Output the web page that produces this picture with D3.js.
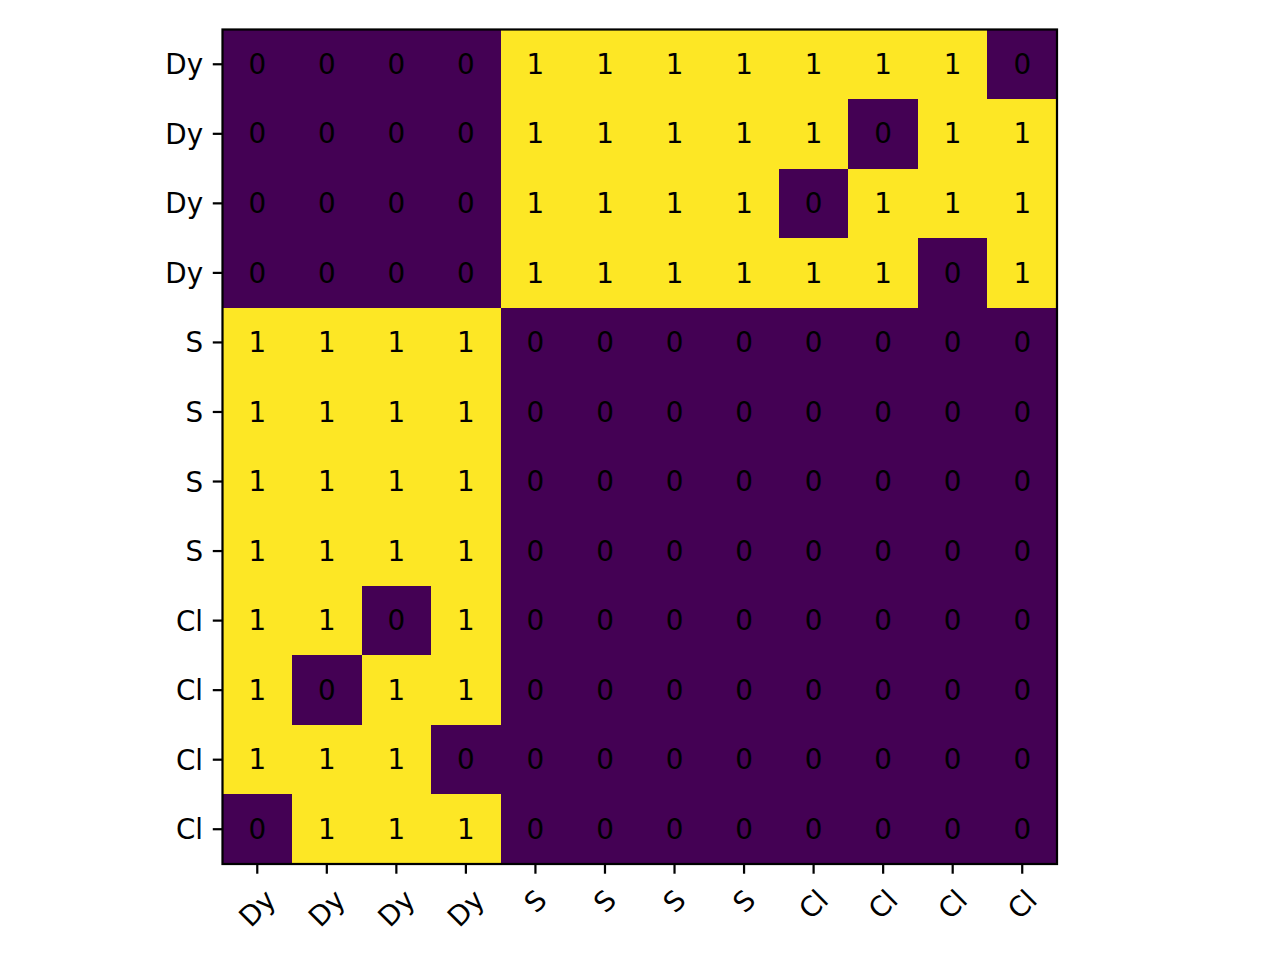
<!DOCTYPE html>
<html>
<head>
<meta charset="utf-8">
<script src="https://cdn.jsdelivr.net/npm/d3@7"></script>
<style>
  html, body { margin: 0; padding: 0; background: #ffffff; }
  svg { display: block; }
</style>
</head>
<body>
<svg id="chart" width="1280" height="960"></svg>
<script>
// ---- data ----
const rowLabels = ["Dy", "Dy", "Dy", "Dy", "S", "S", "S", "S", "Cl", "Cl", "Cl", "Cl"];
const colLabels = ["Dy", "Dy", "Dy", "Dy", "S", "S", "S", "S", "Cl", "Cl", "Cl", "Cl"];
const row0  = [0, 0, 0, 0, 1, 1, 1, 1, 1, 1, 1, 0];
const row1  = [0, 0, 0, 0, 1, 1, 1, 1, 1, 0, 1, 1];
const row2  = [0, 0, 0, 0, 1, 1, 1, 1, 0, 1, 1, 1];
const row3  = [0, 0, 0, 0, 1, 1, 1, 1, 1, 1, 0, 1];
const row4  = [1, 1, 1, 1, 0, 0, 0, 0, 0, 0, 0, 0];
const row5  = [1, 1, 1, 1, 0, 0, 0, 0, 0, 0, 0, 0];
const row6  = [1, 1, 1, 1, 0, 0, 0, 0, 0, 0, 0, 0];
const row7  = [1, 1, 1, 1, 0, 0, 0, 0, 0, 0, 0, 0];
const row8  = [1, 1, 0, 1, 0, 0, 0, 0, 0, 0, 0, 0];
const row9  = [1, 0, 1, 1, 0, 0, 0, 0, 0, 0, 0, 0];
const row10 = [1, 1, 1, 0, 0, 0, 0, 0, 0, 0, 0, 0];
const row11 = [0, 1, 1, 1, 0, 0, 0, 0, 0, 0, 0, 0];
const matrix = [row0, row1, row2, row3, row4, row5, row6, row7, row8, row9, row10, row11];

// ---- layout ----
const x0 = 222.5, y0 = 29.5, size = 834.5;
const fs = 27.78;           // 10pt at 200 dpi
const tickLen = 9.72, tickPad = 9.72, lw = 2.22;
const font = "DejaVu Sans, sans-serif";

const svg = d3.select("#chart");

const idx = d3.range(12);
const x = d3.scaleBand().domain(idx).range([x0, x0 + size]).padding(0);
const y = d3.scaleBand().domain(idx).range([y0, y0 + size]).padding(0);
const color = d3.scaleSequential(d3.interpolateViridis).domain([0, 1]);

const cells = [];
matrix.forEach((r, i) => r.forEach((v, j) => cells.push({ i, j, v })));

const g = svg.append("g");
g.selectAll("rect.cell").data(cells).join("rect")
  .attr("class", "cell")
  .attr("x", d => x(d.j))
  .attr("y", d => y(d.i))
  .attr("width", x.bandwidth())
  .attr("height", y.bandwidth())
  .attr("fill", d => color(d.v))
  .attr("shape-rendering", "crispEdges");

g.selectAll("text.ann").data(cells).join("text")
  .attr("class", "ann")
  .attr("x", d => x(d.j) + x.bandwidth() / 2)
  .attr("y", d => y(d.i) + y.bandwidth() / 2)
  .attr("dy", "0.346em")
  .attr("text-anchor", "middle")
  .attr("font-family", font)
  .attr("font-size", fs)
  .attr("fill", "#000000")
  .text(d => d.v);

// ---- axes ----
const xAxis = d3.axisBottom(x).tickSize(tickLen).tickPadding(tickPad).tickFormat(i => colLabels[i]);
const yAxis = d3.axisLeft(y).tickSize(tickLen).tickPadding(tickPad).tickFormat(i => rowLabels[i]);

const gx = svg.append("g").attr("transform", `translate(0,${y0 + size})`).call(xAxis);
const gy = svg.append("g").attr("transform", `translate(${x0},0)`).call(yAxis);

[gx, gy].forEach(a => {
  a.select(".domain").remove();
  a.selectAll(".tick line").attr("stroke", "#000").attr("stroke-width", lw);
  a.selectAll(".tick text").attr("font-family", font).attr("font-size", fs).attr("fill", "#000");
});

gy.selectAll(".tick text")
  .attr("x", -(tickLen + tickPad))
  .attr("dy", "0.36em")
  .attr("text-anchor", "end");

gx.selectAll(".tick text").each(function () {
  const t = d3.select(this);
  const w = this.getComputedTextLength();
  const h = 1.164 * fs;
  const c = (w + h) / (2 * Math.SQRT2);
  t.attr("x", 0).attr("y", 0)
    .attr("dy", "0.346em")
    .attr("text-anchor", "middle")
    .attr("transform", `translate(0,${tickLen + tickPad + c}) rotate(-45)`);
});

// frame
svg.append("rect")
  .attr("x", x0).attr("y", y0)
  .attr("width", size).attr("height", size)
  .attr("fill", "none")
  .attr("stroke", "#000")
  .attr("stroke-width", lw);
</script>
</body>
</html>
